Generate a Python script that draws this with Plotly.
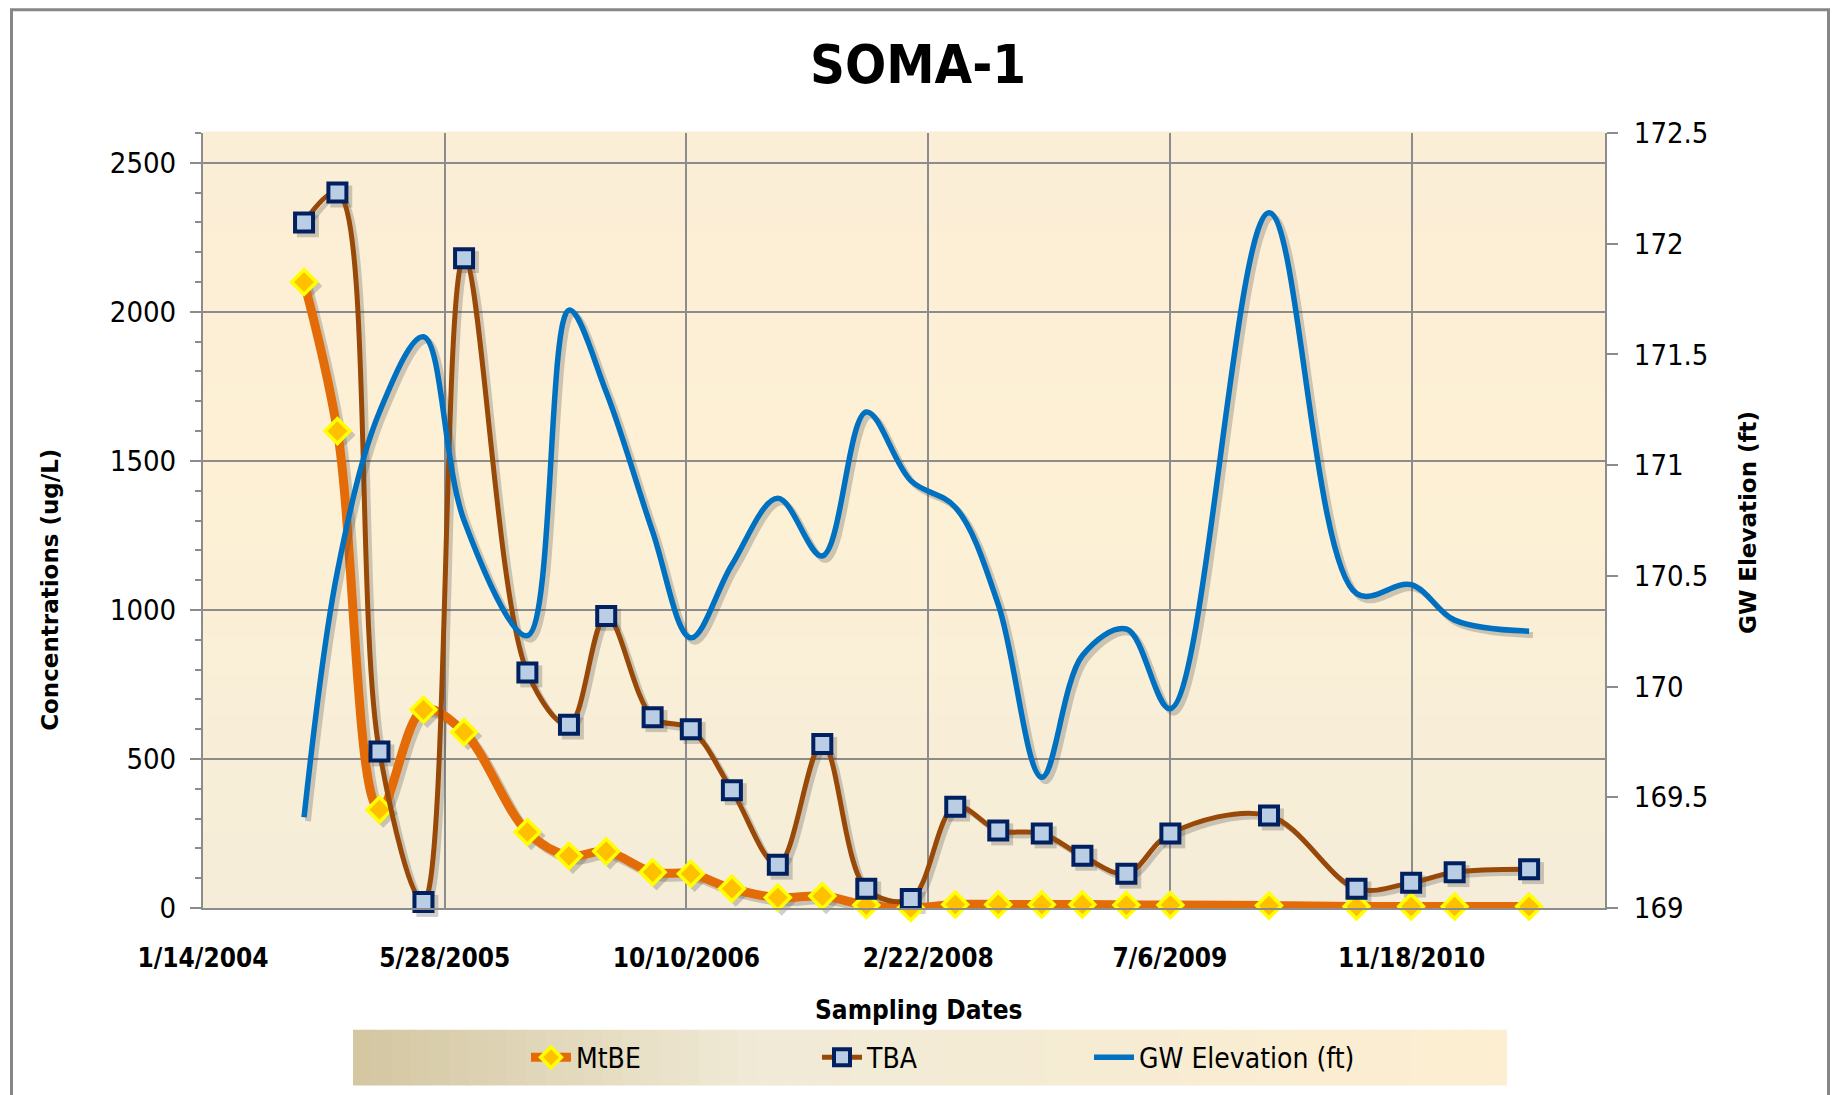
from datetime import date, timedelta
import plotly.graph_objects as go

# ---- monitoring data for well SOMA-1 ----
sample_dates = [
    "2004-08-10", "2004-10-18", "2005-01-13", "2005-04-14", "2005-07-07",
    "2005-11-15", "2006-02-09", "2006-04-27", "2006-08-01", "2006-10-19",
    "2007-01-12", "2007-04-17", "2007-07-18", "2007-10-17", "2008-01-17",
    "2008-04-18", "2008-07-16", "2008-10-14", "2009-01-06", "2009-04-07",
    "2009-07-07", "2010-01-27", "2010-07-27", "2010-11-17", "2011-02-15",
    "2011-07-19",
]
mtbe_ugl = [2100, 1600, 330, 665, 590, 255, 175, 190, 120, 115,
            65, 35, 40, 10, 0, 12, 12, 12, 12, 10,
            10, 8, 5, 5, 5, 5]
tba_ugl = [2300, 2400, 525, 20, 2180, 790, 615, 980, 640, 600,
           395, 145, 550, 65, 30, 340, 260, 250, 175, 115,
           250, 310, 65, 85, 120, 130]
gw_elev_ft = [169.41, 170.52, 171.24, 171.58, 170.75, 170.23, 171.70, 171.33, 170.70, 170.22,
              170.55, 170.85, 170.59, 171.24, 170.93, 170.81, 170.37, 169.59, 170.14, 170.26,
              169.90, 172.14, 170.42, 170.46, 170.30, 170.25]

# ---- axis ticks ----
x_tick_dates = ["2004-01-14", "2005-05-28", "2006-10-10", "2008-02-22", "2009-07-06", "2010-11-18"]
x_tick_labels = ["1/14/2004", "5/28/2005", "10/10/2006", "2/22/2008", "7/6/2009", "11/18/2010"]
x_range = ["2004-01-14", "2011-12-23"]
conc_ticks = [0, 500, 1000, 1500, 2000, 2500]
elev_ticks = [169, 169.5, 170, 170.5, 171, 171.5, 172, 172.5]
elev_tick_labels = ["169", "169.5", "170", "170.5", "171", "171.5", "172", "172.5"]

# ---- page geometry (pixels) ----
W, H = 1835, 1095
ML, MR, MT, MB = 203, 230, 133, 185
PW, PH = W - ML - MR, H - MT - MB


def px_x(px):
    return (px - ML) / PW


def px_y(py):
    return (H - MB - py) / PH


NARROW = "Liberation Sans Narrow, Arial Narrow, DejaVu Sans Condensed, sans-serif"
WIDE = "DejaVu Sans, Verdana, sans-serif"
GRID = "#8c8c8c"


def mix(c0, c1, t):
    return "rgb(%d,%d,%d)" % tuple(round(a + (b - a) * t) for a, b in zip(c0, c1))


def gradient(stops, t):
    for (t0, c0), (t1, c1) in zip(stops, stops[1:]):
        if t <= t1:
            return mix(c0, c1, (t - t0) / (t1 - t0))
    return mix(stops[-1][1], stops[-1][1], 0)


shapes = []

# plot-area fill: soft vertical parchment gradient
area_stops = [(0.0, (245, 237, 217)), (0.55, (253, 240, 213)), (1.0, (251, 238, 214))]
n = 40
for i in range(n):
    shapes.append(dict(type="rect", xref="paper", yref="paper",
                       x0=0, x1=1, y0=i / n, y1=(i + 1) / n + 0.002,
                       fillcolor=gradient(area_stops, (i + 0.5) / n),
                       line=dict(width=0), layer="below"))

# legend band: horizontal gradient from tan to cream
leg_stops = [(0.0, (211, 198, 161)), (0.35, (240, 234, 214)), (1.0, (253, 238, 209))]
lx0, lx1, ly0, ly1 = 353, 1506, 1032, 1088
m = 60
for i in range(m):
    xa = lx0 + (lx1 - lx0) * i / m
    xb = lx0 + (lx1 - lx0) * (i + 1) / m + 1
    shapes.append(dict(type="rect", xref="paper", yref="paper",
                       x0=px_x(xa), x1=px_x(xb), y0=px_y(ly1), y1=px_y(ly0),
                       fillcolor=gradient(leg_stops, (i + 0.5) / m),
                       line=dict(width=0), layer="below"))

# chart-area frame
shapes.append(dict(type="rect", xref="paper", yref="paper",
                   x0=px_x(11.5), x1=px_x(1828.5), y0=px_y(1110), y1=px_y(9.5),
                   line=dict(color="#878787", width=3), fillcolor="rgba(0,0,0,0)",
                   layer="above"))

# ---- drop shadows: each series repeated slightly down and to the right ----
SHADOW = "rgba(70,70,70,0.26)"
shadow_shift = timedelta(days=8)
shadow_dates = [date.fromisoformat(d) + shadow_shift for d in sample_dates]
conc_drop = 13        # concentration units (~4 px)
elev_drop = 0.0175    # feet (~4 px)

fig = go.Figure()

fig.add_trace(go.Scatter(
    x=shadow_dates, y=[v - elev_drop for v in gw_elev_ft], mode="lines",
    line=dict(color=SHADOW, width=6, shape="spline", smoothing=1.0),
    yaxis="y2", showlegend=False, hoverinfo="skip",
))
fig.add_trace(go.Scatter(
    x=shadow_dates, y=[v - conc_drop for v in mtbe_ugl], mode="lines+markers",
    line=dict(color=SHADOW, width=9, shape="spline", smoothing=1.0),
    marker=dict(symbol="diamond", size=22, color=SHADOW, line=dict(width=0)),
    cliponaxis=False, showlegend=False, hoverinfo="skip",
))
fig.add_trace(go.Scatter(
    x=shadow_dates, y=[v - conc_drop for v in tba_ugl], mode="lines+markers",
    line=dict(color=SHADOW, width=5, shape="spline", smoothing=1.0),
    marker=dict(symbol="square", size=22, color=SHADOW, line=dict(width=0)),
    cliponaxis=False, showlegend=False, hoverinfo="skip",
))

fig.add_trace(go.Scatter(
    x=sample_dates, y=mtbe_ugl, name="MtBE", mode="lines+markers",
    line=dict(color="#e36c09", width=9, shape="spline", smoothing=1.0),
    marker=dict(symbol="diamond", size=19, color="#ffc000",
                line=dict(color="#ffff00", width=3.5)),
    cliponaxis=False, legend="legend",
))
fig.add_trace(go.Scatter(
    x=sample_dates, y=tba_ugl, name="TBA", mode="lines+markers",
    line=dict(color="#984807", width=5, shape="spline", smoothing=1.0),
    marker=dict(symbol="square", size=18, color="#b9cde5",
                line=dict(color="#002060", width=4)),
    cliponaxis=False, legend="legend2",
))
fig.add_trace(go.Scatter(
    x=sample_dates, y=gw_elev_ft, name="GW Elevation (ft)", mode="lines",
    line=dict(color="#0070c0", width=5.5, shape="spline", smoothing=1.0),
    yaxis="y2", legend="legend3",
))

legend_common = dict(orientation="h", bgcolor="rgba(0,0,0,0)", borderwidth=0,
                     font=dict(family=NARROW, size=28, color="#000000"),
                     yanchor="middle", xanchor="left", itemwidth=40)

title_font = dict(family=WIDE, size=23, color="#000000", weight="bold")

fig.update_layout(
    width=W, height=H,
    margin=dict(l=ML, r=MR, t=MT, b=MB, pad=0),
    paper_bgcolor="#ffffff",
    plot_bgcolor="rgba(0,0,0,0)",
    shapes=shapes,
    title=dict(text="SOMA-1", x=918 / W, xanchor="center", y=1 - 64 / H, yanchor="middle",
               font=dict(family=NARROW, size=54, color="#000000", weight="bold")),
    xaxis=dict(
        type="date", range=x_range,
        tickmode="array", tickvals=x_tick_dates, ticktext=x_tick_labels,
        showgrid=True, gridcolor=GRID, gridwidth=2,
        showline=True, linecolor=GRID, linewidth=2,
        ticks="", ticklabelstandoff=26, zeroline=False,
        tickfont=dict(family=NARROW, size=26, color="#000000", weight="bold"),
    ),
    yaxis=dict(
        range=[0, 2600], tickmode="array", tickvals=conc_ticks,
        showgrid=True, gridcolor=GRID, gridwidth=2,
        showline=True, linecolor=GRID, linewidth=2, zeroline=False,
        ticks="outside", ticklen=11, tickwidth=2, tickcolor=GRID,
        minor=dict(dtick=100, ticks="outside", ticklen=6, tickwidth=2,
                   tickcolor=GRID, showgrid=False),
        ticklabelstandoff=8,
        tickfont=dict(family=NARROW, size=29, color="#000000"),
    ),
    yaxis2=dict(
        range=[169, 172.5], overlaying="y", side="right",
        tickmode="array", tickvals=elev_ticks, ticktext=elev_tick_labels,
        showgrid=False, showline=True, linecolor=GRID, linewidth=2, zeroline=False,
        ticks="outside", ticklen=11, tickwidth=2, tickcolor=GRID,
        ticklabelstandoff=10,
        tickfont=dict(family=NARROW, size=29, color="#000000"),
    ),
    annotations=[
        dict(text="Sampling Dates", xref="paper", yref="paper",
             x=px_x(919), y=px_y(1012), xanchor="center", yanchor="middle",
             showarrow=False,
             font=dict(family=NARROW, size=26, color="#000000", weight="bold")),
        dict(text="Concentrations (ug/L)", xref="paper", yref="paper",
             x=px_x(50), y=px_y(591), xanchor="center", yanchor="middle",
             textangle=-90, showarrow=False, font=title_font),
        dict(text="GW Elevation (ft)", xref="paper", yref="paper",
             x=px_x(1748), y=px_y(524), xanchor="center", yanchor="middle",
             textangle=-90, showarrow=False, font=title_font),
    ],
    legend=dict(x=px_x(526), y=px_y(1060), **legend_common),
    legend2=dict(x=px_x(817), y=px_y(1060), **legend_common),
    legend3=dict(x=px_x(1089), y=px_y(1060), **legend_common),
    showlegend=True,
)

fig.write_html("out.html")
